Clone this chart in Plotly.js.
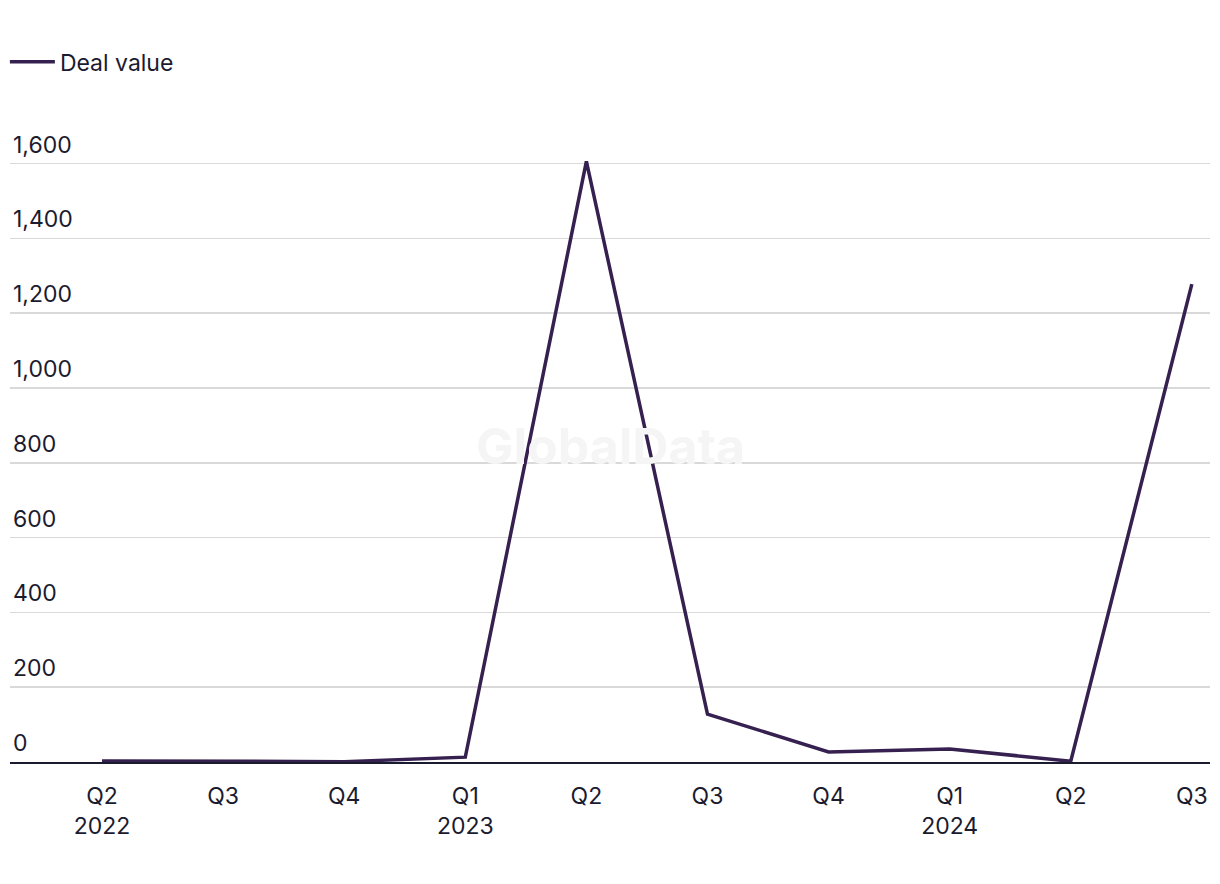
<!DOCTYPE html>
<html>
<head>
<meta charset="utf-8">
<script src="https://cdn.plot.ly/plotly-3.0.1.min.js"></script>
<style>html,body{margin:0;padding:0;background:#fff;}#chart{width:1220px;height:884px;}</style>
</head>
<body>
<div id="chart"></div>
<script>
var quarters = ["2022-Q2","2022-Q3","2022-Q4","2023-Q1","2023-Q2","2023-Q3","2023-Q4","2024-Q1","2024-Q2","2024-Q3"];
var tickLabels = ["Q2<br>2022","Q3","Q4","Q1<br>2023","Q2","Q3","Q4","Q1<br>2024","Q2","Q3"];
var dealValue = [3, 1, 1, 13, 1606, 128, 27, 35, 2, 1278];
var seriesName = "Deal value";

var textColor = "#1b1b2f";
var font = "Inter, 'Liberation Sans', sans-serif";

var trace = {
  x: quarters,
  y: dealValue,
  type: "scatter",
  mode: "lines",
  name: seriesName,
  line: {color: "#35204f", width: 3.5},
  hoverinfo: "x+y"
};

var layout = {
  width: 1220,
  height: 884,
  paper_bgcolor: "#fff",
  plot_bgcolor: "#fff",
  margin: {l: 10, r: 10, t: 130, b: 122},
  font: {family: font, color: textColor, size: 23},
  showlegend: true,
  legend: {
    orientation: "h",
    xref: "container", yref: "container",
    x: 0.004, y: 0.93, xanchor: "left", yanchor: "middle",
    font: {size: 23, color: textColor},
    itemwidth: 45
  },
  xaxis: {
    type: "category",
    range: [-0.76, 9.15],
    tickmode: "array",
    tickvals: quarters,
    ticktext: tickLabels,
    showgrid: false,
    showline: true,
    linecolor: textColor,
    linewidth: 2,
    ticks: "",
    ticklabelstandoff: 12,
    zeroline: false,
    tickfont: {size: 23, color: textColor}
  },
  yaxis: {
    range: [0, 1690],
    tickvals: [0, 200, 400, 600, 800, 1000, 1200, 1400, 1600],
    tickformat: ",d",
    ticklabelposition: "inside top",
    ticklabelshift: -3,
    showgrid: true,
    gridcolor: "#d9d9d9",
    gridwidth: 1.5,
    zeroline: false,
    showline: false,
    ticks: "",
    tickfont: {size: 23, color: textColor}
  },
  annotations: [{
    text: "<b>GlobalData</b>",
    xref: "paper", yref: "paper",
    x: 0.5, y: 0.5,
    showarrow: false,
    font: {size: 50, color: "#f5f5f5", family: font}
  }]
};

Plotly.newPlot("chart", [trace], layout, {displayModeBar: false, staticPlot: true});
</script>
</body>
</html>
